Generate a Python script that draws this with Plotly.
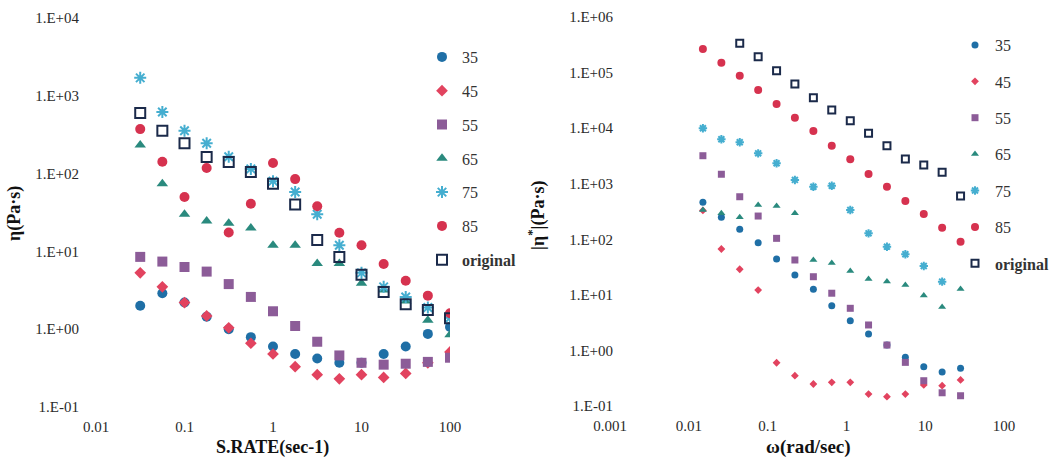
import plotly.graph_objects as go

# ---------------- data ----------------
# Left panel: viscosity vs shear rate
shear_rate = [0.0316, 0.0562, 0.1, 0.178, 0.316, 0.562, 1, 1.78, 3.16, 5.62, 10, 17.8, 31.6, 56.2, 100]
eta_35 = [2.0, 2.9, 2.2, 1.45, 1.0, 0.79, 0.6, 0.48, 0.42, 0.37, 0.37, 0.48, 0.6, 0.87, 1.07]
eta_45 = [5.3, 3.5, 2.2, 1.48, 1.04, 0.66, 0.48, 0.33, 0.26, 0.23, 0.26, 0.24, 0.27, 0.37, 0.51]
eta_55 = [8.5, 7.4, 6.3, 5.5, 3.8, 2.6, 1.7, 1.1, 0.69, 0.46, 0.37, 0.35, 0.36, 0.38, 0.43]
eta_65 = [234, 74, 30, 24.5, 23, 20, 12, 12, 7.0, 7.0, 3.9, 3.2, 2.3, 1.3, 0.85]
eta_75 = [1700, 620, 355, 245, 165, 115, 80, 58, 30, 12, 5.3, 3.5, 2.6, 1.9, 1.4]
eta_85 = [373, 142, 50, 118, 17.5, 41, 137, 85, 38, 17.4, 12, 6.9, 4.2, 2.7, 1.6]
eta_orig = [600, 355, 245, 163, 141, 105, 74, 40, 14, 8.5, 5.0, 3.0, 2.1, 1.77, 1.38]

# Right panel: complex viscosity vs angular frequency
omega = [0.0151, 0.0259, 0.0443, 0.0759, 0.130, 0.222, 0.381, 0.652, 1.12, 1.91, 3.27, 5.60, 9.59, 16.4, 28.1]
cv_35 = [462, 249, 151, 86.8, 44.2, 22.8, 12.6, 6.37, 3.43, 1.97, 1.25, 0.75, 0.51, 0.41, 0.48]
cv_45 = [330, 66.8, 28.9, 12.2, 0.60, 0.351, 0.249, 0.267, 0.267, 0.164, 0.147, 0.164, 0.239, 0.232, 0.294]
cv_55 = [3190, 1480, 583, 262, 104, 42.4, 21.2, 10.7, 5.73, 2.87, 1.25, 0.61, 0.285, 0.173, 0.153]
cv_65 = [336, 293, 249, 414, 397, 293, 42.4, 37.4, 26.9, 19.3, 17.4, 15.0, 9.73, 6.04, 12.7]
cv_75 = [9940, 6300, 5560, 3520, 2330, 1170, 884, 921, 336, 128, 73.6, 53.7, 33.1, 17.3, None]
cv_85 = [266000, 151000, 88000, 48600, 27200, 15400, 8880, 4830, 2750, 1500, 884, 489, 285, 162, 90.6]
cv_orig = [None, None, 336000, 193000, 108000, 62200, 35300, 21200, 13600, 8080, 4830, 2780, 2170, 1600, 601]

series_names = ["35", "45", "55", "65", "75", "85", "<b>original</b>"]

left_y_tickvals = [0.1, 1, 10, 100, 1000, 10000]
left_y_ticktext = ["1.E-01", "1.E+00", "1.E+01", "1.E+02", "1.E+03", "1.E+04"]
left_x_tickvals = [0.01, 0.1, 1, 10, 100]
left_x_ticktext = ["0.01", "0.1", "1", "10", "100"]
right_y_tickvals = [0.1, 1, 10, 100, 1000, 10000, 100000, 1000000]
right_y_ticktext = ["1.E-01", "1.E+00", "1.E+01", "1.E+02", "1.E+03", "1.E+04", "1.E+05", "1.E+06"]
right_x_tickvals = [0.001, 0.01, 0.1, 1, 10, 100]
right_x_ticktext = ["0.001", "0.01", "0.1", "1", "10", "100"]

# ---------------- styling ----------------
W, H = 1053, 467
SERIF = "Liberation Serif, Times New Roman, serif"
colors = ["#1f6fa6", "#e2435f", "#8c5c98", "#2a8a7e", "#45aed0", "#d6324f", "#1b2a4a"]
symbols = ["circle", "diamond", "square", "triangle-up", "asterisk-open", "circle", "square-open"]
left_sizes = [10, 9, 10, 10, 10, 10, 10]
right_sizes = [7, 6, 7, 7, 7, 8, 7]


def fx(p):
    return p / W


def fy(p):
    return 1 - p / H


fig = go.Figure()

left_data = [eta_35, eta_45, eta_55, eta_65, eta_75, eta_85, eta_orig]
right_data = [cv_35, cv_45, cv_55, cv_65, cv_75, cv_85, cv_orig]


def marker_for(i, size):
    m = dict(symbol=symbols[i], size=size, color=colors[i])
    if symbols[i] in ("asterisk-open", "square-open"):
        m["line"] = dict(color=colors[i], width=2)
    else:
        m["line"] = dict(width=0)
    return m


for i, ys in enumerate(left_data):
    fig.add_trace(go.Scatter(
        x=shear_rate, y=ys, mode="markers", name=series_names[i],
        marker=marker_for(i, left_sizes[i]), xaxis="x", yaxis="y",
        legend="legend", legendgroup="L" + str(i)))

for i, ys in enumerate(right_data):
    fig.add_trace(go.Scatter(
        x=omega, y=ys, mode="markers", name=series_names[i],
        marker=marker_for(i, right_sizes[i]), xaxis="x2", yaxis="y2",
        legend="legend2", legendgroup="R" + str(i)))

tick_font = dict(family=SERIF, size=15, color="#2a2a2a")
common_axis = dict(type="log", showgrid=False, zeroline=False, showline=False,
                   ticks="", tickfont=tick_font, automargin=False)

fig.update_layout(
    width=W, height=H,
    margin=dict(l=0, r=0, t=0, b=0, autoexpand=False),
    paper_bgcolor="white", plot_bgcolor="white",
    xaxis=dict(common_axis, domain=[fx(96), fx(450)], range=[-2, 2], anchor="y",
               tickvals=left_x_tickvals, ticktext=left_x_ticktext, ticklabelstandoff=9),
    yaxis=dict(common_axis, domain=[fy(407), fy(18)], range=[-1, 4], anchor="x",
               tickvals=left_y_tickvals, ticktext=left_y_ticktext, ticklabelstandoff=16),
    xaxis2=dict(common_axis, domain=[fx(610), fx(1004)], range=[-3, 2], anchor="y2",
                tickvals=right_x_tickvals, ticktext=right_x_ticktext, ticklabelstandoff=9),
    yaxis2=dict(common_axis, domain=[fy(406), fy(17)], range=[-1, 6], anchor="x2",
                tickvals=right_y_tickvals, ticktext=right_y_ticktext, ticklabelstandoff=-4),
    legend=dict(x=fx(422), y=fy(40), xanchor="left", yanchor="top",
                font=dict(family=SERIF, size=16, color="#333333"),
                bgcolor="rgba(0,0,0,0)", tracegroupgap=10, traceorder="grouped",
                itemsizing="trace"),
    legend2=dict(x=fx(955), y=fy(28), xanchor="left", yanchor="top",
                 font=dict(family=SERIF, size=16, color="#333333"),
                 bgcolor="rgba(0,0,0,0)", tracegroupgap=12.6, traceorder="grouped",
                 itemsizing="trace"),
    showlegend=True,
)

title_font = dict(family=SERIF, size=18, color="#111111")
annots = [
    dict(text="<b>S.RATE(sec-1)</b>", x=fx(272), y=fy(447)),
    dict(text="<b>η(Pa·s)</b>", x=fx(14), y=fy(214), textangle=-90),
    dict(text="<b>ω(rad/sec)</b>", x=fx(808), y=fy(447), font=dict(family=SERIF, size=19, color="#111111")),
    dict(text="<b>|η<sup>*</sup>|(Pa·s)</b>", x=fx(537), y=fy(216), textangle=-90),
]
for a in annots:
    f = a.pop("font", title_font)
    fig.add_annotation(xref="paper", yref="paper", showarrow=False,
                       xanchor="center", yanchor="middle", font=f, **a)

# remove the browser's default 8px page margin so the figure sits at the top-left corner
fig.write_html("out.html", config={"displayModeBar": False},
               post_script="document.body.style.margin='0';")
